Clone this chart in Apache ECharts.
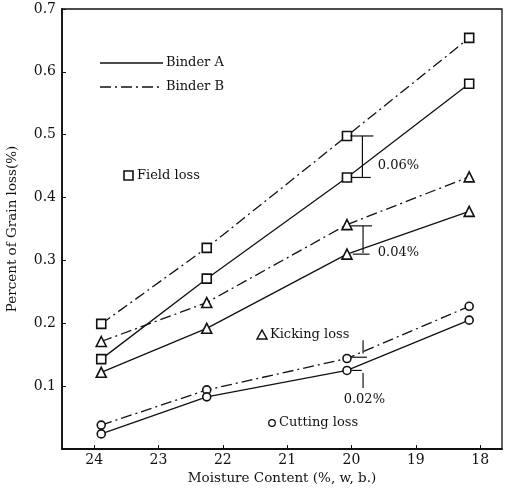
<!DOCTYPE html>
<html>
<head>
<meta charset="utf-8">
<script src="https://cdn.jsdelivr.net/npm/echarts@6/dist/echarts.min.js"></script>
<style>
  html, body { margin: 0; padding: 0; background: #fff; }
  #chart { width: 510px; height: 488px; }
</style>
</head>
<body>
<div id="chart"></div>
<script>
// Moisture content (%, w.b.) at each sampling date
const moisture = [23.89, 22.25, 20.07, 18.17];

// Grain loss (%) by type and binder
const fieldLossB   = [0.199, 0.320, 0.498, 0.654];
const fieldLossA   = [0.143, 0.271, 0.432, 0.581];
const kickingLossB = [0.171, 0.233, 0.357, 0.433];
const kickingLossA = [0.122, 0.192, 0.310, 0.378];
const cuttingLossB = [0.038, 0.094, 0.144, 0.227];
const cuttingLossA = [0.024, 0.083, 0.125, 0.205];

// Axis ticks
const xTicks = [24, 23, 22, 21, 20, 19, 18];
const yTicks = [0.1, 0.2, 0.3, 0.4, 0.5, 0.6, 0.7];

// Loss differences between binders at 20 % moisture
const gapLabels = ['0.06%', '0.04%', '0.02%'];

const FONT = 'DejaVu Serif';
const DASH_DOT = [11, 4, 2, 4];

function pairs(vals) { return moisture.map((m, i) => [m, vals[i]]); }

function lossSeries(name, vals, symbol, size, dashed) {
  return {
    name: name,
    type: 'line',
    data: pairs(vals),
    symbol: symbol,
    symbolSize: size,
    showSymbol: true,
    itemStyle: { color: '#fff', borderColor: '#111', borderWidth: 1.6 },
    lineStyle: { color: '#111', width: 1.3, type: dashed ? DASH_DOT : 'solid' },
    emphasis: { disabled: true },
    animation: false,
    z: 3
  };
}

const chart = echarts.init(document.getElementById('chart'), null, { renderer: 'canvas' });

chart.setOption({
  backgroundColor: '#fff',
  animation: false,
  grid: {
    left: 62, right: 8, top: 9, bottom: 39,
    outerBoundsMode: 'none',
    containLabel: false,
    show: true, borderColor: '#111', borderWidth: 1.3, backgroundColor: 'transparent'
  },
  xAxis: {
    type: 'value',
    inverse: true,
    min: 17.66,
    max: 24.5,
    name: 'Moisture Content (%, w, b.)',
    nameLocation: 'middle',
    nameGap: 20,
    nameTextStyle: { fontFamily: FONT, fontSize: 13.5, color: '#111' },
    axisLine: { show: true, lineStyle: { color: '#111', width: 1.8 } },
    axisTick: { show: true, inside: true, length: 4, customValues: xTicks, lineStyle: { color: '#111' } },
    axisLabel: { customValues: xTicks, margin: 4, fontFamily: FONT, fontSize: 14, color: '#111' },
    splitLine: { show: false }
  },
  yAxis: {
    type: 'value',
    min: 0,
    max: 0.7,
    name: 'Percent of Grain loss(%)',
    nameLocation: 'middle',
    nameGap: 43,
    nameTextStyle: { fontFamily: FONT, fontSize: 13.5, color: '#111' },
    axisLine: { show: true, lineStyle: { color: '#111', width: 1.8 } },
    axisTick: { show: true, inside: true, length: 4, customValues: yTicks, lineStyle: { color: '#111' } },
    axisLabel: {
      customValues: yTicks, margin: 6, fontFamily: FONT, fontSize: 14, color: '#111',
      formatter: v => v.toFixed(1)
    },
    splitLine: { show: false }
  },
  series: [
    lossSeries('Binder B', fieldLossB, 'rect', 9, true),
    lossSeries('Binder A', fieldLossA, 'rect', 9, false),
    lossSeries('Binder B', kickingLossB, 'triangle', 10, true),
    lossSeries('Binder A', kickingLossA, 'triangle', 10, false),
    lossSeries('Binder B', cuttingLossB, 'circle', 8, true),
    lossSeries('Binder A', cuttingLossA, 'circle', 8, false)
  ]
});

// Difference brackets, placed in data coordinates and converted through the axes
const toPx = (x, y) => chart.convertToPixel({ gridIndex: 0 }, [x, y]);
const lineStyle = { stroke: '#111', lineWidth: 1.2 };
const g = [];

function seg(x1, y1, x2, y2) {
  const a = toPx(x1, y1), b = toPx(x2, y2);
  g.push({ type: 'line', shape: { x1: a[0], y1: a[1], x2: b[0], y2: b[1] }, style: lineStyle, z: 5 });
}
function label(text, x, y, align) {
  const p = toPx(x, y);
  g.push({
    type: 'text', x: p[0], y: p[1],
    style: { text: text, fontFamily: FONT, fontSize: 13, fill: '#111', align: align || 'left', verticalAlign: 'middle' },
    z: 5
  });
}

// field loss: 0.06 %
seg(19.83, fieldLossB[2], 19.83, fieldLossA[2]);
seg(20.02, fieldLossB[2], 19.66, fieldLossB[2]);
seg(20.00, fieldLossA[2], 19.70, fieldLossA[2]);
label(gapLabels[0], 19.59, 0.451);

// kicking loss: 0.04 %
seg(19.82, kickingLossB[2] - 0.002, 19.82, kickingLossA[2] + 0.002);
seg(20.01, kickingLossB[2] - 0.002, 19.68, kickingLossB[2] - 0.002);
seg(19.98, kickingLossA[2], 19.72, kickingLossA[2]);
label(gapLabels[1], 19.59, 0.312);

// cutting loss: 0.02 %
seg(19.82, 0.173, 19.82, 0.152);
seg(20.00, cuttingLossB[2] + 0.002, 19.76, cuttingLossB[2] + 0.002);
seg(20.00, cuttingLossA[2], 19.84, cuttingLossA[2]);
seg(19.82, 0.121, 19.82, 0.097);
label(gapLabels[2], 19.80, 0.078, 'center');

const keyText = (text, x, y) => ({
  type: 'text', x: x, y: y,
  style: { text: text, fontFamily: FONT, fontSize: 13, fill: '#111', verticalAlign: 'middle' }
});

// Line-style key
g.push({ type: 'line', shape: { x1: 100, y1: 63, x2: 163, y2: 63 }, style: { stroke: '#111', lineWidth: 1.4 } });
g.push(keyText('Binder A', 166, 63));
g.push({ type: 'line', shape: { x1: 100, y1: 87, x2: 163, y2: 87 }, style: { stroke: '#111', lineWidth: 1.4, lineDash: DASH_DOT } });
g.push(keyText('Binder B', 166, 87));

// Marker key
g.push({ type: 'rect', shape: { x: 124, y: 171, width: 9, height: 9 }, style: { fill: '#fff', stroke: '#111', lineWidth: 1.6 } });
g.push(keyText('Field loss', 137, 176));
g.push({ type: 'polygon', shape: { points: [[262, 330], [257, 339], [267, 339]] }, style: { fill: '#fff', stroke: '#111', lineWidth: 1.5 } });
g.push(keyText('Kicking loss', 270, 335));
g.push({ type: 'circle', shape: { cx: 272, cy: 423, r: 3.3 }, style: { fill: '#fff', stroke: '#111', lineWidth: 1.3 } });
g.push(keyText('Cutting loss', 279, 423));

chart.setOption({ graphic: g });
</script>
</body>
</html>
